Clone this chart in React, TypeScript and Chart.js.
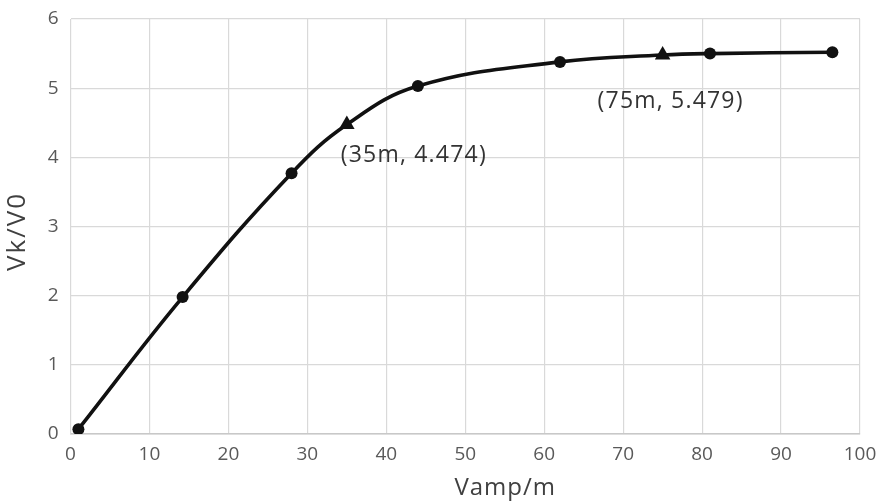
import { useEffect, useRef } from "react";
import { Chart, registerables } from "chart.js";
Chart.register(...registerables);

const xValues = [1, 14.2, 28, 35, 44, 62, 75, 81, 96.5];
const yValues = [0.07, 1.98, 3.77, 4.474, 5.03, 5.38, 5.479, 5.5, 5.52];
const markerKinds = ["circle", "circle", "circle", "triangle", "circle", "circle", "triangle", "circle", "circle"];
const annotationTexts = ["(35m, 4.474)", "(75m, 5.479)"];
const annotationIndices = [3, 6];
const annotationOffsets = [[67, 31], [8, 46]];
const xTitle = "Vamp/m";
const yTitle = "Vk/V0";

const FONT = "'Open Sans', 'Noto Sans', sans-serif";

const textPlugin = {
  id: "extraText",
  afterDatasetsDraw(chart: any) {
    const meta = chart.getDatasetMeta(0);
    const ctx = chart.ctx;
    const area = chart.chartArea;
    ctx.save();
    ctx.textAlign = "center";
    ctx.textBaseline = "middle";
    ctx.font = `23px ${FONT}`;
    (ctx as any).letterSpacing = "1.2px";
    ctx.fillStyle = "#333333";
    annotationIndices.forEach((idx, i) => {
      const el = meta.data[idx];
      if (!el) return;
      ctx.fillText(annotationTexts[i], el.x + annotationOffsets[i][0], el.y + annotationOffsets[i][1]);
    });
    ctx.fillStyle = "#404040";
    ctx.font = `24px ${FONT}`;
    (ctx as any).letterSpacing = "1px";
    ctx.fillText(xTitle, (area.left + area.right) / 2 + 40, chart.height - 16);
    ctx.font = `26px ${FONT}`;
    (ctx as any).letterSpacing = "2px";
    ctx.translate(18, (area.top + area.bottom) / 2 + 5);
    ctx.rotate(-Math.PI / 2);
    ctx.fillText(yTitle, 0, 0);
    ctx.restore();
  },
};

export default function App() {
  const ref = useRef<HTMLCanvasElement | null>(null);
  useEffect(() => {
    if (!ref.current) return;
    const chart = new Chart(ref.current, {
      type: "line",
      data: {
        datasets: [
          {
            data: xValues.map((x, i) => ({ x, y: yValues[i] })),
            borderColor: "#111111",
            backgroundColor: "#111111",
            borderWidth: 3.6,
            tension: 0.4,
            pointStyle: markerKinds as any,
            pointRadius: markerKinds.map((k) => (k === "triangle" ? 9 : 6)),
            pointBorderWidth: 0,
          },
        ],
      },
      options: {
        animation: false,
        responsive: true,
        maintainAspectRatio: false,
        layout: { padding: { top: 19, right: 20, left: 0, bottom: 0 } },
        plugins: { legend: { display: false }, tooltip: { enabled: false } },
        scales: {
          x: {
            type: "linear",
            min: 0,
            max: 100,
            ticks: { stepSize: 10, color: "#595959", font: { family: FONT, size: 19 }, padding: 9 },
            grid: { color: "#d9d9d9", lineWidth: 1.2, drawTicks: false },
            border: { color: "#c8c8c8", width: 1.5 },
            afterFit: (s: any) => { s.height = 70; s.paddingRight = 0; s.paddingLeft = 0; },
          },
          y: {
            min: 0,
            max: 6,
            ticks: { stepSize: 1, color: "#595959", font: { family: FONT, size: 19 }, padding: 12 },
            grid: { color: "#d9d9d9", lineWidth: 1.2, drawTicks: false },
            border: { color: "#d9d9d9" },
            afterFit: (s: any) => { s.width = 70.5; s.paddingTop = 0; s.paddingBottom = 0; },
          },
        },
      },
      plugins: [textPlugin],
    });
    return () => chart.destroy();
  }, []);
  return (
    <div style={{ position: "fixed", left: 0, top: 0, width: 880, height: 504, background: "#fff" }}>
      <canvas ref={ref} />
    </div>
  );
}
